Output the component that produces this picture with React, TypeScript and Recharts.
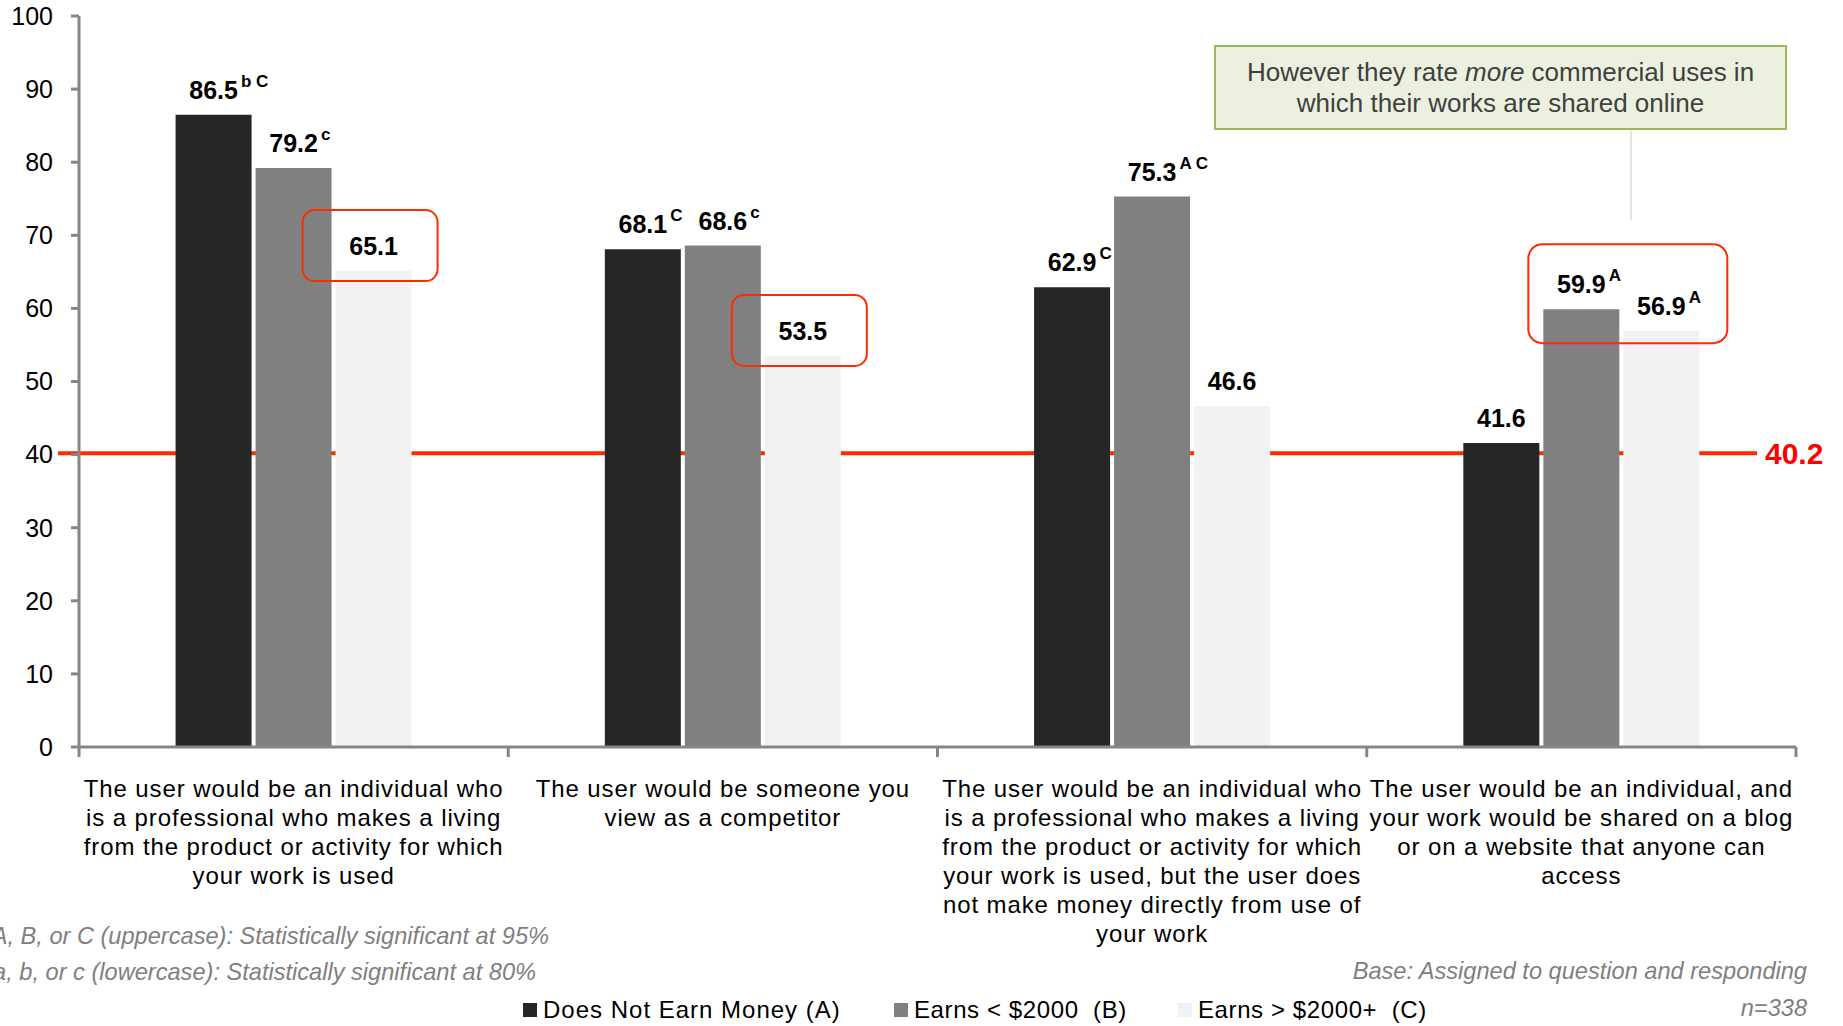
import React from "react";
import { BarChart, Bar, XAxis, YAxis, ReferenceLine, LabelList } from "recharts";

// ---------- data ----------
const categoryLines: string[][] = [
  [
    "The user would be an individual who",
    "is a professional who makes a living",
    "from the product or activity for which",
    "your work is used",
  ],
  ["The user would be someone you", "view as a competitor"],
  [
    "The user would be an individual who",
    "is a professional who makes a living",
    "from the product or activity for which",
    "your work is used, but the user does",
    "not make money directly from use of",
    "your work",
  ],
  [
    "The user would be an individual, and",
    "your work would be shared on a blog",
    "or on a website that anyone can",
    "access",
  ],
];
const seriesNames = ["Does Not Earn Money (A)", "Earns < $2000  (B)", "Earns > $2000+  (C)"];
const seriesColors = ["#262626", "#808080", "#F2F2F2"];
const notEarnValues = [86.5, 68.1, 62.9, 41.6];
const underValues = [79.2, 68.6, 75.3, 59.9];
const overValues = [65.1, 53.5, 46.6, 56.9];
const notEarnSig = ["b C", "C", "C", ""];
const underSig = ["c", "c", "A C", "A"];
const overSig = ["", "", "", "A"];
const highlights = ["C", "C", "", "BC"];
const averageValue = 40.2;
const yTicks = [0, 10, 20, 30, 40, 50, 60, 70, 80, 90, 100];
const calloutText = ["However they rate ", "more", " commercial uses in", "which their works are shared online"];
const footnotes = [
  "A, B, or C (uppercase): Statistically significant at 95%",
  "a, b, or c (lowercase): Statistically significant at 80%",
];
const baseNote = "Base: Assigned to question and responding";
const sampleNote = "n=338";

// ---------- layout ----------
const W = 1843;
const H = 1026;
const MARGIN = { top: 16, right: 47, left: 0, bottom: 29 };
const Y_AXIS_W = 79;
const X_AXIS_H = 250;
const PLOT_W = W - MARGIN.left - Y_AXIS_W - MARGIN.right;
const PLOT_BOTTOM = H - MARGIN.bottom - X_AXIS_H;
const BAR_GAP = 4;
const AXIS_COLOR = "#868686";
const RED = "#FF2A00";
const SANS = "'Liberation Sans', Arial, sans-serif";
const LEGEND_LEFTS = [523, 894, 1178];

const data = categoryLines.map((lines, i) => ({
  name: lines.join(" "),
  a: notEarnValues[i],
  b: underValues[i],
  c: overValues[i],
}));

const CategoryTick = (props: any) => {
  const { x, payload } = props;
  const idx = props.index ?? payload?.index ?? 0;
  const lines = categoryLines[idx] || [];
  const bw = PLOT_W / categoryLines.length;
  const left = x - bw / 2;
  const right = x + bw / 2;
  return (
    <g>
      <line x1={left} y1={PLOT_BOTTOM} x2={left} y2={PLOT_BOTTOM + 10} stroke={AXIS_COLOR} strokeWidth={3} />
      {idx === categoryLines.length - 1 && (
        <line x1={right} y1={PLOT_BOTTOM} x2={right} y2={PLOT_BOTTOM + 10} stroke={AXIS_COLOR} strokeWidth={3} />
      )}
      <text
        x={x}
        y={PLOT_BOTTOM + 50}
        textAnchor="middle"
        fill="#000"
        style={{ fontFamily: SANS, fontSize: 24, letterSpacing: 0.9 }}
      >
        {lines.map((l, i) => (
          <tspan key={i} x={x} dy={i === 0 ? 0 : 29}>
            {l}
          </tspan>
        ))}
      </text>
    </g>
  );
};

const makeLabel = (sigs: string[], key: string) => (props: any) => {
  const vb = props.viewBox || {};
  const x = Number(props.x ?? vb.x);
  const y = Number(props.y ?? vb.y);
  const width = Number(props.width ?? vb.width);
  const index = props.index ?? 0;
  const value = Number(props.value);
  const numStr = value.toFixed(1);
  const fs = 25;
  const numW = numStr.split("").reduce((s, ch) => s + (ch === "." ? 0.278 : 0.556), 0) * fs;
  const cx = x + width / 2;
  const sig = sigs[index];
  const hl = highlights[index];
  let box: any = null;
  if (hl === key) {
    box = (
      <rect x={x - 33} y={y - 61} width={width + 59} height={71} rx={12} fill="none" stroke={RED} strokeWidth={2} />
    );
  } else if (key === "B" && hl === "BC") {
    box = (
      <rect
        x={x - 15}
        y={y - 65}
        width={2 * width + BAR_GAP + 43}
        height={99}
        rx={14}
        fill="none"
        stroke={RED}
        strokeWidth={2}
      />
    );
  }
  return (
    <g>
      {box}
      <text x={cx - numW / 2} y={y - 16} fill="#000" style={{ fontFamily: SANS, fontSize: fs, fontWeight: 700 }}>
        {numStr}
        {sig ? (
          <tspan dx={3} dy={-12} style={{ fontSize: 17 }}>
            {sig}
          </tspan>
        ) : null}
      </text>
    </g>
  );
};

const AverageLine = (p: any) => {
  const y = Number(p.y1);
  return (
    <g>
      <line x1={Number(p.x1) - 21} y1={y} x2={Number(p.x2) - 39} y2={y} stroke={RED} strokeWidth={4} />
      <text
        x={Number(p.x2) - 31}
        y={y}
        dominantBaseline="central"
        fill="#FF0000"
        style={{ fontFamily: SANS, fontSize: 30, fontWeight: 700 }}
      >
        {averageValue.toFixed(1)}
      </text>
    </g>
  );
};

const noteStyle: React.CSSProperties = {
  position: "absolute",
  whiteSpace: "nowrap",
  fontFamily: SANS,
  fontStyle: "italic",
  fontSize: 23.6,
  lineHeight: "28px",
  color: "#7F7F7F",
};

export default function App() {
  const keys = ["a", "b", "c"];
  const sigs = [notEarnSig, underSig, overSig];
  const letters = ["A", "B", "C"];
  return (
    <div
      style={{
        position: "absolute",
        left: 0,
        top: 0,
        width: W,
        height: H,
        background: "#fff",
        overflow: "hidden",
      }}
    >
      <BarChart width={W} height={H} data={data} margin={MARGIN} barCategoryGap="22.5%" barGap={BAR_GAP}>
        <XAxis
          dataKey="name"
          height={X_AXIS_H}
          interval={0}
          tickLine={false}
          tickSize={0}
          tick={<CategoryTick />}
          axisLine={{ stroke: AXIS_COLOR, strokeWidth: 3 }}
        />
        <YAxis
          width={Y_AXIS_W}
          domain={[0, 100]}
          ticks={yTicks}
          interval={0}
          tickSize={8}
          tickMargin={18}
          axisLine={{ stroke: AXIS_COLOR, strokeWidth: 3 }}
          tickLine={{ stroke: AXIS_COLOR, strokeWidth: 3 }}
          tick={{ fill: "#000", fontSize: 25, fontFamily: SANS }}
        />
        <ReferenceLine y={averageValue} ifOverflow="visible" shape={AverageLine} zIndex={0} />
        {keys.map((k, i) => (
          <Bar key={k} dataKey={k} fill={seriesColors[i]} isAnimationActive={false} name={seriesNames[i]}>
            <LabelList dataKey={k} content={makeLabel(sigs[i], letters[i])} />
          </Bar>
        ))}
      </BarChart>

      {/* callout */}
      <div
        style={{
          position: "absolute",
          left: 1214,
          top: 45,
          width: 573,
          height: 85,
          boxSizing: "border-box",
          border: "2px solid #9BBB59",
          background: "#EBF1DE",
          display: "flex",
          alignItems: "center",
          justifyContent: "center",
          textAlign: "center",
          fontFamily: SANS,
          fontSize: 26,
          lineHeight: "31px",
          color: "#404040",
          whiteSpace: "nowrap",
        }}
      >
        <div>
          {calloutText[0]}
          <i>{calloutText[1]}</i>
          {calloutText[2]}
          <br />
          {calloutText[3]}
        </div>
      </div>
      <div style={{ position: "absolute", left: 1630, top: 131, width: 2, height: 89, background: "#E6E6DC" }} />

      {/* footnotes */}
      {footnotes.map((t, i) => (
        <div key={i} style={{ ...noteStyle, right: W - (i === 0 ? 549 : 536), top: (i === 0 ? 936 : 972) - 14 }}>
          {t}
        </div>
      ))}
      <div style={{ ...noteStyle, right: W - 1807, top: 971 - 14 }}>{baseNote}</div>
      <div style={{ ...noteStyle, right: W - 1807, top: 1008 - 14 }}>{sampleNote}</div>

      {/* legend */}
      {seriesNames.map((n, i) => (
        <div
          key={n}
          style={{
            position: "absolute",
            left: LEGEND_LEFTS[i],
            top: 1010 - 15,
            height: 30,
            display: "flex",
            alignItems: "center",
            fontFamily: SANS,
            fontSize: 24,
            letterSpacing: i === 0 ? 1.0 : 0.6,
            color: "#000",
            whiteSpace: "pre",
          }}
        >
          <div style={{ width: 14, height: 14, background: seriesColors[i], marginRight: 6 }} />
          <span>{n}</span>
        </div>
      ))}
    </div>
  );
}
